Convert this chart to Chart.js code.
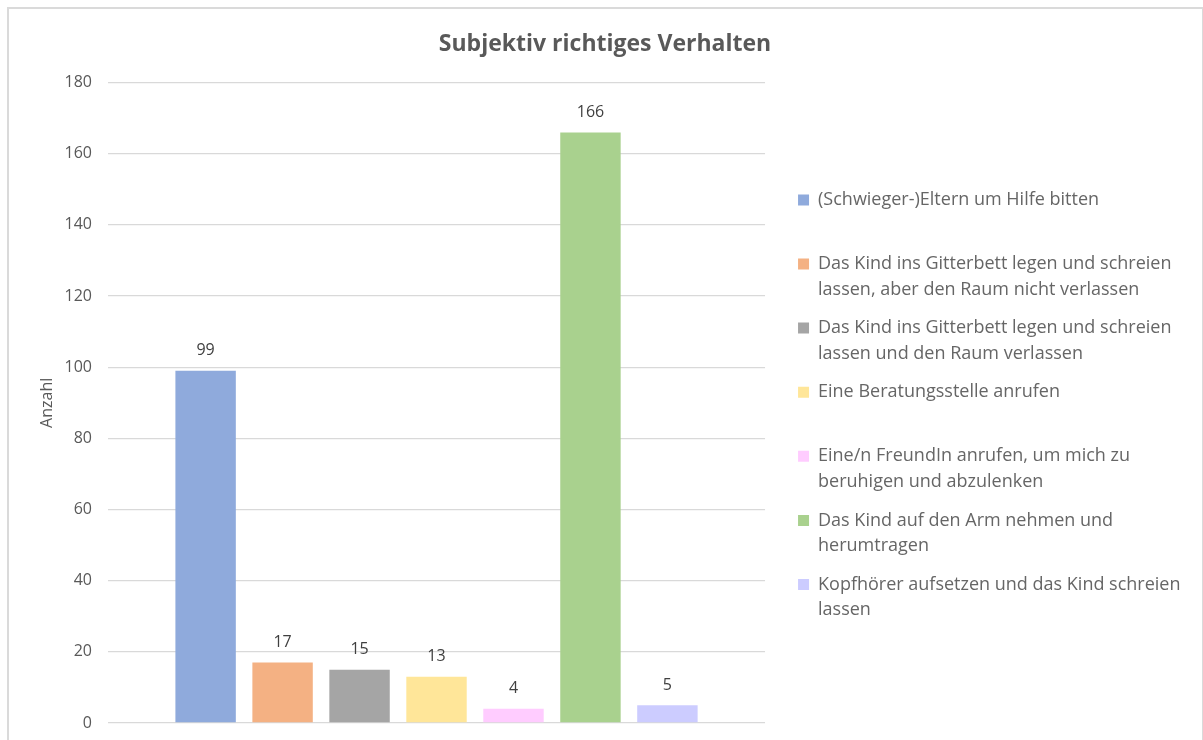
<!DOCTYPE html>
<html>
<head>
<meta charset="utf-8">
<script src="https://cdn.jsdelivr.net/npm/chart.js@4.4.1/dist/chart.umd.min.js"></script>
<style>
  html, body { margin: 0; padding: 0; background: #fff; }
  #wrap { position: relative; width: 1203px; height: 740px; overflow: hidden; }
  #frame { position: absolute; left: 7px; top: 7px; width: 1193px; height: 760px;
           border: 2px solid #dadada; pointer-events: none; }
  canvas { position: absolute; left: 0; top: 0; }
</style>
</head>
<body>
<div id="wrap">
  <div id="frame"></div>
  <canvas id="chart" width="1203" height="740"></canvas>
</div>
<script>
const chartTitle = "Subjektiv richtiges Verhalten";
const yAxisTitle = "Anzahl";
const categories = [""];
const seriesNames = [
  "(Schwieger-)Eltern um Hilfe bitten",
  "Das Kind ins Gitterbett legen und schreien lassen, aber den Raum nicht verlassen",
  "Das Kind ins Gitterbett legen und schreien lassen und den Raum verlassen",
  "Eine Beratungsstelle anrufen",
  "Eine/n FreundIn anrufen, um mich zu beruhigen und abzulenken",
  "Das Kind auf den Arm nehmen und herumtragen",
  "Kopfhörer aufsetzen und das Kind schreien lassen"
];
// legend text as it wraps in the original
const legendLines = [
  ["(Schwieger-)Eltern um Hilfe bitten", ""],
  ["Das Kind ins Gitterbett legen und schreien", "lassen, aber den Raum nicht verlassen"],
  ["Das Kind ins Gitterbett legen und schreien", "lassen und den Raum verlassen"],
  ["Eine Beratungsstelle anrufen", ""],
  ["Eine/n FreundIn anrufen, um mich zu", "beruhigen und abzulenken"],
  ["Das Kind auf den Arm nehmen und", "herumtragen"],
  ["Kopfhörer aufsetzen und das Kind schreien", "lassen"]
];
const seriesValues = [99, 17, 15, 13, 4, 166, 5];
const seriesColors = ["#8faadc", "#f4b183", "#a5a5a5", "#ffe699", "#ffccff", "#a9d18e", "#ccccff"];
const yTicks = { min: 0, max: 180, step: 20 };

const FONT = "'Open Sans', 'Noto Sans', sans-serif";
const GREY = "#595959";

// value labels above each bar
const valueLabels = {
  id: "valueLabels",
  afterDatasetsDraw(chart){
    const ctx = chart.ctx;
    ctx.save();
    ctx.font = "16px " + FONT;
    ctx.fillStyle = "#404040";
    ctx.textAlign = "center";
    ctx.textBaseline = "middle";
    chart.data.datasets.forEach((ds, i)=>{
      const meta = chart.getDatasetMeta(i);
      meta.data.forEach((bar, j)=>{
        ctx.fillText(String(ds.data[j]), bar.x, bar.y - 20);
      });
    });
    ctx.restore();
  }
};

const datasets = seriesNames.map((name, i)=>({
  label: name,
  data: [seriesValues[i]],
  backgroundColor: seriesColors[i],
  borderWidth: 0,
  categoryPercentage: 0.82,
  barPercentage: 0.785
}));

new Chart(document.getElementById("chart"), {
  type: "bar",
  data: { labels: categories, datasets },
  plugins: [valueLabels],
  options: {
    responsive: false,
    animation: false,
    layout: { padding: { left: 19.5, right: 12.5, top: 0, bottom: 17 } },
    plugins: {
      tooltip: { enabled: false },
      title: {
        display: true,
        text: chartTitle,
        color: GREY,
        font: { family: FONT, size: 23, weight: "bold", lineHeight: 1.2 },
        padding: { top: 31, bottom: 24 }
      },
      legend: {
        position: "right",
        fullSize: false,
        align: "center",
        maxWidth: 600,
        // empty title just nudges the items down a little
        title: { display: true, text: "", font: { size: 10, lineHeight: 1 }, padding: 1 },
        labels: {
          color: GREY,
          font: { family: FONT, size: 18, lineHeight: 1.42 },
          boxWidth: 11,
          boxHeight: 11,
          padding: 13,
          generateLabels(chart){
            return chart.data.datasets.map((ds, i)=>({
              text: legendLines[i],
              fillStyle: ds.backgroundColor,
              strokeStyle: ds.backgroundColor,
              lineWidth: 0,
              hidden: false,
              datasetIndex: i
            }));
          }
        }
      }
    },
    scales: {
      x: { display: false },
      y: {
        min: yTicks.min,
        max: yTicks.max,
        ticks: { stepSize: yTicks.step, color: GREY, padding: 16, font: { family: FONT, size: 16 } },
        grid: { color: "#d9d9d9", lineWidth: 1.3, drawTicks: false },
        border: { display: false },
        title: { display: true, text: yAxisTitle, color: GREY, font: { family: FONT, size: 16, lineHeight: 1.2 }, padding: { top: 18, bottom: 0 } },
        afterFit(s){ s.width = 88.5; s.paddingTop = 0; s.paddingBottom = 0; }
      },
      // empty spacer between plot and legend
      gap: {
        type: "linear",
        position: "right",
        display: true,
        ticks: { display: false },
        grid: { display: false },
        border: { display: false },
        afterFit(s){ s.width = 20; }
      }
    }
  }
});
</script>
</body>
</html>
